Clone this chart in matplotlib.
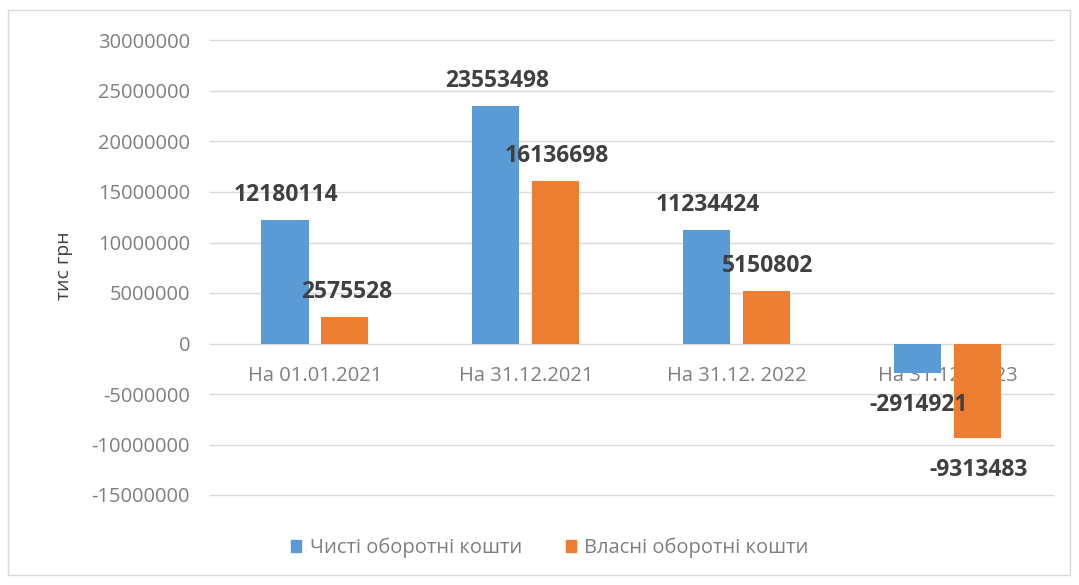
import matplotlib
matplotlib.use("Agg")
import matplotlib.pyplot as plt
from matplotlib.patches import Rectangle, Patch

# Data (тис грн)
categories = ["На 01.01.2021", "На 31.12.2021", "На 31.12. 2022", "На 31.12. 2023"]
net_working_capital = [12180114, 23553498, 11234424, -2914921]
own_working_capital = [2575528, 16136698, 5150802, -9313483]
series_names = ["Чисті оборотні кошти", "Власні оборотні кошти"]
y_ticks = [30000000, 25000000, 20000000, 15000000, 10000000, 5000000,
           0, -5000000, -10000000, -15000000]

BLUE = "#5B9BD5"
ORANGE = "#ED7D31"
GRID = "#D9D9D9"
TICK = "#7F7F7F"
LABEL = "#404040"

plt.rcParams["font.family"] = ["Open Sans", "DejaVu Sans"]

fig = plt.figure(figsize=(10.79, 5.85), dpi=100)
W, H = 1079, 585

# chart frame
fig.patches.append(Rectangle((8 / W, 1 - 575 / H), (1070 - 8) / W, (575 - 10) / H,
                             transform=fig.transFigure, fill=False,
                             edgecolor="#D9D9D9", linewidth=1.0))

left, right = 209.5 / W, 1053 / W
top, bottom = 1 - 40.5 / H, 1 - 495 / H
ax = fig.add_axes([left, bottom, right - left, top - bottom])

x = list(range(len(categories)))
width = 0.223
offset = 0.142

bars1 = ax.bar([i - offset for i in x], net_working_capital, width, color=BLUE, zorder=3)
bars2 = ax.bar([i + offset for i in x], own_working_capital, width, color=ORANGE, zorder=3)

ax.set_xlim(-0.5, len(categories) - 0.5)
ax.set_ylim(-15000000, 30000000)
ax.set_yticks(y_ticks)
ax.set_yticklabels([str(v) for v in y_ticks])
ax.tick_params(axis="y", length=0, pad=14, labelsize=14.5, labelcolor=TICK)
ax.set_xticks([])
ax.grid(axis="y", color=GRID, linewidth=1.0, zorder=0)
for gl in ax.get_ygridlines():
    gl.set_clip_on(False)
for s in ax.spines.values():
    s.set_visible(False)

# category labels next to the zero line
for i, c in enumerate(categories):
    ax.annotate(c, xy=(i, 0), xytext=(0, -23.5), textcoords="offset points",
                ha="center", va="center", fontsize=14.5, color=TICK, zorder=2)

# value labels
for bars, vals in ((bars1, net_working_capital), (bars2, own_working_capital)):
    for b, v in zip(bars, vals):
        dy = 18 if v >= 0 else -23
        ax.annotate(str(v), xy=(b.get_x() + b.get_width() / 2, v),
                    xytext=(1, dy), textcoords="offset points",
                    ha="center", va="center", fontsize=16.5, fontweight="bold",
                    color=LABEL, zorder=5)

fig.text(64 / W, 1 - 266 / H, "тис грн", rotation=90, ha="center", va="center",
         fontsize=14, color=LABEL)

handles = [Patch(color=BLUE), Patch(color=ORANGE)]
fig.legend(handles, series_names, loc="center", bbox_to_anchor=(550 / W, 1 - 548 / H),
           ncol=2, frameon=False, fontsize=14.5, labelcolor=TICK,
           handlelength=0.5, handleheight=0.5, handletextpad=0.4, columnspacing=2.2)

fig.savefig("out.png", dpi=100, facecolor="white")
